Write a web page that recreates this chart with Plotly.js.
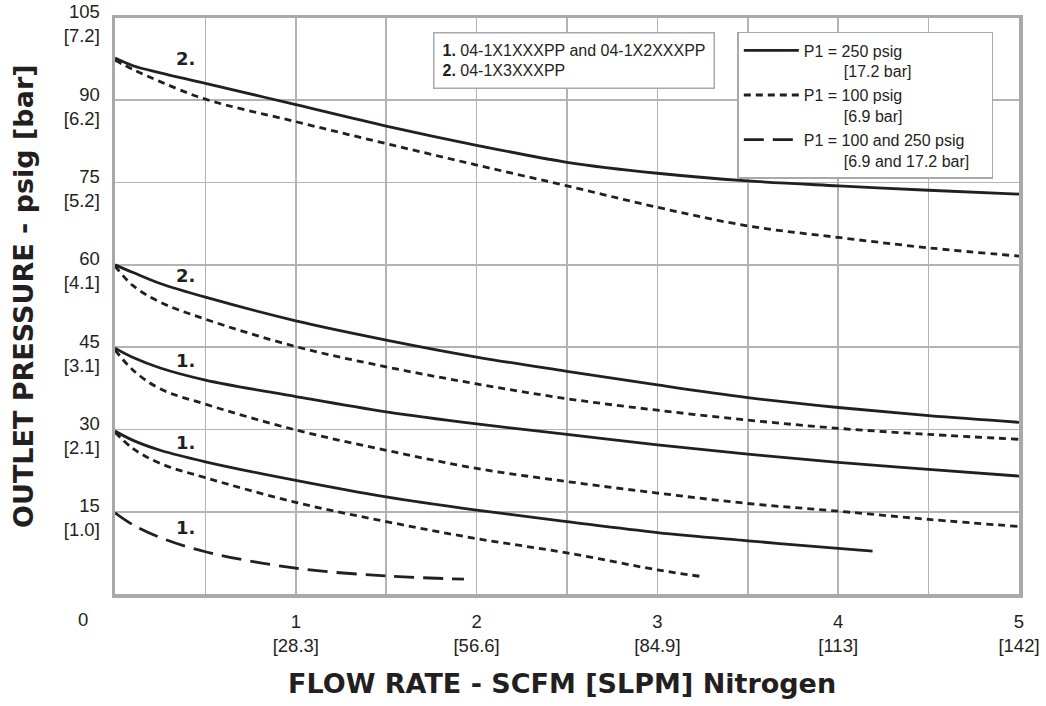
<!DOCTYPE html>
<html>
<head>
<meta charset="utf-8">
<script src="https://cdn.plot.ly/plotly-3.0.1.min.js"></script>
<style>html,body{margin:0;padding:0;background:#fff;}#chart{width:1046px;height:706px;}</style>
</head>
<body>
<div id="chart"></div>
<script>
// Flow rate (SCFM) sample points
const xFull = [0, 0.1, 0.25, 0.5, 1, 1.5, 2, 2.5, 3, 3.5, 4, 4.5, 5];
// Model 2 (04-1X3XXXPP), upper set point
const m2Hi250 = [97.7, 96.3, 95.0, 93.1, 89.2, 85.3, 81.8, 78.7, 76.7, 75.3, 74.4, 73.6, 72.9];
const m2Hi100 = [97.3, 95.6, 93.4, 90.2, 86.1, 82.1, 78.2, 74.4, 70.5, 67.1, 65.0, 63.1, 61.6];
// Model 2, 60 psig set point
const m2Lo250 = [60.0, 58.6, 56.6, 54.1, 49.8, 46.3, 43.2, 40.6, 38.1, 35.8, 34.0, 32.5, 31.3];
const m2Lo100 = [59.8, 56.2, 53.2, 50.1, 45.1, 41.4, 38.3, 35.6, 33.5, 31.7, 30.2, 29.1, 28.2];
// Model 1 (04-1X1XXXPP / 04-1X2XXXPP), 45 psig set point
const m1Hi250 = [44.8, 43.1, 41.2, 39.0, 36.0, 33.2, 31.0, 29.1, 27.2, 25.5, 24.0, 22.7, 21.5];
const m1Hi100 = [44.5, 40.8, 37.4, 34.6, 29.9, 26.2, 22.9, 20.5, 18.4, 16.5, 15.1, 13.6, 12.3];
// Model 1, 30 psig set point
const xM1Mid250 = [0, 0.1, 0.25, 0.5, 1, 1.5, 2, 2.5, 3, 3.5, 4, 4.19];
const m1Mid250 = [29.7, 28.0, 26.2, 24.1, 20.7, 17.7, 15.3, 13.2, 11.2, 9.7, 8.3, 7.8];
const xM1Mid100 = [0, 0.1, 0.25, 0.5, 1, 1.5, 2, 2.5, 3, 3.24];
const m1Mid100 = [29.5, 26.5, 23.8, 21.2, 16.7, 13.2, 10.1, 7.5, 4.4, 3.2];
// Model 1, 15 psig set point (100 and 250 psig inlet)
const xM1Low = [0, 0.1, 0.25, 0.5, 1, 1.5, 1.93];
const m1Low = [14.8, 12.6, 10.3, 7.7, 4.7, 3.3, 2.7];

// Axis ticks
const xTickVals = [0, 0.5, 1, 1.5, 2, 2.5, 3, 3.5, 4, 4.5, 5];
const xTickText = ['', '', '1<br>[28.3]', '', '2<br>[56.6]', '', '3<br>[84.9]', '', '4<br>[113]', '', '5<br>[142]'];
const yTickVals = [0, 15, 30, 45, 60, 75, 90, 105];
const yTickText = ['', '15<br>[1.0]', '30<br>[2.1]', '45<br>[3.1]', '60<br>[4.1]', '75<br>[5.2]', '90<br>[6.2]', '105<br>[7.2]'];

// Curve labels
const lblX = [0.392, 0.392, 0.392, 0.392, 0.392];
const lblY = [97.6, 58.1, 42.6, 27.7, 12.2];
const lblText = ['2.', '2.', '1.', '1.', '1.'];

const ink = '#231f20';
const NB = '\u00A0';
const LW = 2.8;
const solid = {color: ink, width: LW, shape: 'spline', smoothing: 1};
const shortDash = {color: ink, width: LW, dash: '7px,5px', shape: 'spline', smoothing: 1};
const longDash = {color: ink, width: LW, dash: '20px,9px', shape: 'spline', smoothing: 1};

const traces = [
  {x: xFull, y: m2Hi250, mode: 'lines', line: solid, showlegend: true, legendrank: 1,
   name: 'P1 = 250 psig<br>' + NB.repeat(9) + '[17.2 bar]'},
  {x: xFull, y: m2Hi100, mode: 'lines', line: shortDash, showlegend: true, legendrank: 2,
   name: 'P1 = 100 psig<br>' + NB.repeat(9) + '[6.9 bar]'},
  {x: xM1Low, y: m1Low, mode: 'lines', line: longDash, showlegend: true, legendrank: 3,
   name: 'P1 = 100 and 250 psig' + NB.repeat(5) + '<br>' + NB.repeat(9) + '[6.9 and 17.2 bar]'},
  {x: xFull, y: m2Lo250, mode: 'lines', line: solid, showlegend: false},
  {x: xFull, y: m2Lo100, mode: 'lines', line: shortDash, showlegend: false},
  {x: xFull, y: m1Hi250, mode: 'lines', line: solid, showlegend: false},
  {x: xFull, y: m1Hi100, mode: 'lines', line: shortDash, showlegend: false},
  {x: xM1Mid250, y: m1Mid250, mode: 'lines', line: solid, showlegend: false},
  {x: xM1Mid100, y: m1Mid100, mode: 'lines', line: shortDash, showlegend: false}
];

const heavy = 'DejaVu Sans, Verdana, sans-serif';
const plain = 'Liberation Sans, Arial, sans-serif';

const annotations = lblText.map((t, i) => ({
  x: lblX[i], y: lblY[i], xref: 'x', yref: 'y', text: '<b>' + t + '</b>', showarrow: false,
  font: {family: heavy, size: 18, color: ink}
}));

annotations.push({
  xref: 'paper', yref: 'paper', x: 0.3514, y: 0.9757, xanchor: 'left', yanchor: 'top',
  text: '<b>1.</b> 04-1X1XXXPP and 04-1X2XXXPP<br><b>2.</b> 04-1X3XXXPP',
  align: 'left', showarrow: false, bgcolor: '#ffffff', bordercolor: '#a7a9ac', borderwidth: 1.5,
  borderpad: 8, font: {family: plain, size: 16, color: ink}
});
annotations.push({
  xref: 'paper', yref: 'paper', x: -0.0354, y: -0.045, xanchor: 'center', yanchor: 'middle',
  text: '0', showarrow: false, font: {family: plain, size: 18.5, color: ink}
});
annotations.push({
  xref: 'paper', yref: 'paper', x: 0.494, y: -0.156, xanchor: 'center', yanchor: 'middle',
  text: '<b>FLOW RATE - SCFM [SLPM] Nitrogen</b>', showarrow: false,
  font: {family: heavy, size: 27, color: ink}
});
annotations.push({
  xref: 'paper', yref: 'paper', x: -0.102, y: 0.517, xanchor: 'center', yanchor: 'middle',
  textangle: -90, text: '<b>OUTLET PRESSURE - psig [bar]</b>', showarrow: false,
  font: {family: heavy, size: 27, color: ink}
});

const layout = {
  width: 1046, height: 706,
  margin: {l: 115, r: 27, t: 18, b: 112},
  paper_bgcolor: '#ffffff', plot_bgcolor: '#ffffff',
  font: {family: plain, color: ink},
  xaxis: {
    range: [0, 5], tickvals: xTickVals, ticktext: xTickText, ticks: '',
    showgrid: true, gridcolor: '#b1b3b6', gridwidth: 1.6, zeroline: false,
    showline: true, linecolor: '#a7a9ac', linewidth: 3.5, mirror: true,
    tickfont: {size: 18.5, color: ink}, ticklabelstandoff: 8, fixedrange: true
  },
  yaxis: {
    range: [0, 105], tickvals: yTickVals, ticktext: yTickText, ticks: '',
    showgrid: true, gridcolor: '#b1b3b6', gridwidth: 1.6, zeroline: false,
    showline: true, linecolor: '#a7a9ac', linewidth: 3.5, mirror: true,
    tickfont: {size: 18.5, color: ink}, ticklabelstandoff: 8, ticklabelshift: 6,
    ticklabeloverflow: 'allow', fixedrange: true
  },
  legend: {
    x: 0.6884, y: 0.9757, xanchor: 'left', yanchor: 'top',
    bgcolor: '#ffffff', bordercolor: '#a7a9ac', borderwidth: 1.5,
    font: {family: plain, size: 16, color: ink}, itemwidth: 55, valign: 'top', traceorder: 'normal'
  },
  annotations: annotations,
  showlegend: true
};

Plotly.newPlot('chart', traces, layout, {staticPlot: true, displayModeBar: false});
</script>
</body>
</html>
